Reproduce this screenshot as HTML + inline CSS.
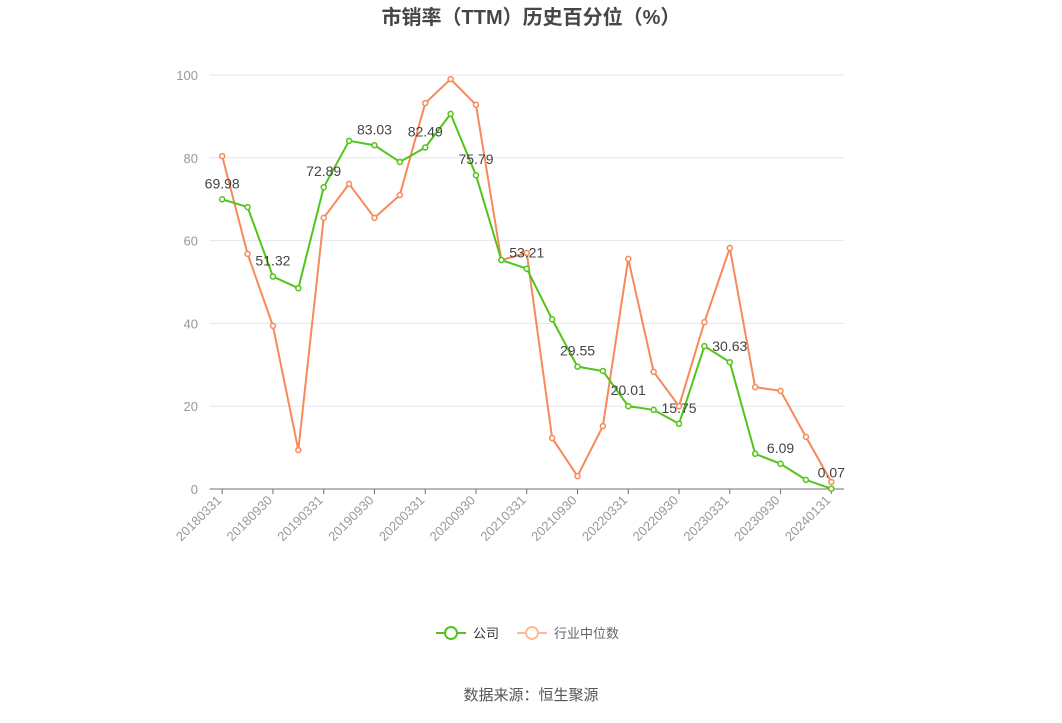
<!DOCTYPE html>
<html><head><meta charset="utf-8">
<style>
body{margin:0;background:#fff;font-family:"Liberation Sans","Noto Sans CJK SC",sans-serif;}
svg text{font-family:"Liberation Sans","Noto Sans CJK SC",sans-serif;}
</style></head>
<body>
<svg id="chart" width="1062" height="718" xmlns="http://www.w3.org/2000/svg">
<text x="531" y="24" text-anchor="middle" font-size="20" font-weight="bold" fill="#464646">市销率（TTM）历史百分位（%）</text>
<g id="grid"></g><g id="xaxis"></g><g id="series"></g>
<g>
<line x1="436" y1="633" x2="466" y2="633" stroke="#52c41a" stroke-width="2"/>
<circle cx="451" cy="633" r="6" fill="#fff" stroke="#52c41a" stroke-width="2"/>
<text x="473" y="638" font-size="13" fill="#333">公司</text>
<line x1="517" y1="633" x2="547" y2="633" stroke="#ffb899" stroke-width="2"/>
<circle cx="532" cy="633" r="6" fill="#fff" stroke="#ffb899" stroke-width="2"/>
<text x="554" y="638" font-size="13" fill="#666">行业中位数</text>
</g>
<text x="531" y="700" text-anchor="middle" font-size="15" fill="#555">数据来源：恒生聚源</text>
</svg>
<script>
const categories=["20180331","20180630","20180930","20181231","20190331","20190630","20190930","20191231","20200331","20200630","20200930","20201231","20210331","20210630","20210930","20211231","20220331","20220630","20220930","20221231","20230331","20230630","20230930","20231231","20240131"];
const companyValues=[69.98,68.1,51.32,48.5,72.89,84.1,83.03,79.0,82.49,90.6,75.79,55.3,53.21,41.0,29.55,28.5,20.01,19.1,15.75,34.5,30.63,8.5,6.09,2.2,0.07];
const industryValues=[80.4,56.8,39.4,9.4,65.5,73.7,65.5,71.0,93.2,99.0,92.8,55.3,57.0,12.3,3.1,15.2,55.6,28.3,20.0,40.3,58.2,24.6,23.7,12.6,1.7];
const yTicks=[0,20,40,60,80,100];
const NS="http://www.w3.org/2000/svg";
const L=209.5,R=844,T=75,B=489;
const bw=(R-L)/categories.length;
const x=i=>L+bw*(i+0.5);
const y=v=>B-(v/100)*(B-T);
function mk(tag,attrs,parent){const e=document.createElementNS(NS,tag);for(const k in attrs)e.setAttribute(k,attrs[k]);parent.appendChild(e);return e;}
const grid=document.getElementById('grid'),xa=document.getElementById('xaxis'),sr=document.getElementById('series');
yTicks.forEach(t=>{
 const l=mk('line',{x1:L,x2:R,y1:y(t),y2:y(t),stroke:'#e0e6f1'},grid);
 
 
 const tx=mk('text',{x:198,y:y(t)+5,'text-anchor':'end','font-size':13,fill:'#999'},grid);
 
 
 tx.textContent=t;
});
const ax=mk('line',{x1:L,x2:R,y1:B,y2:B,stroke:'#6e7079'},xa);


categories.forEach((c,i)=>{
 if(i%2)return;
 const tk=mk('line',{x1:x(i),x2:x(i),y1:B,y2:B+5,stroke:'#6e7079'},xa);
 
 
 const tx=mk('text',{x:x(i),y:B+12,'text-anchor':'end','font-size':13,fill:'#999',transform:`rotate(-45 ${x(i)} ${B+12})`},xa);
 
 
 tx.textContent=c;
});
function drawSeries(vals,color,name,labels){
 const p=mk('polyline',{points:vals.map((v,i)=>x(i)+','+y(v)).join(' '),fill:'none',stroke:color,'stroke-width':2},sr);
 
 
 vals.forEach((v,i)=>{
  const c=mk('circle',{cx:x(i),cy:y(v),r:2.5,fill:'#fff',stroke:color,'stroke-width':1.5},sr);
  
  
 });
}
drawSeries(industryValues,'#f7895a','industry-median',false);
drawSeries(companyValues,'#52c41a','company',true);
companyValues.forEach((v,i)=>{
 if(i%2)return;
 const t=mk('text',{x:x(i),y:y(v)-11,'text-anchor':'middle','font-size':14,fill:'#444'},sr);
 
 
 t.textContent=v.toFixed(2);
});
</script>
</body></html>
